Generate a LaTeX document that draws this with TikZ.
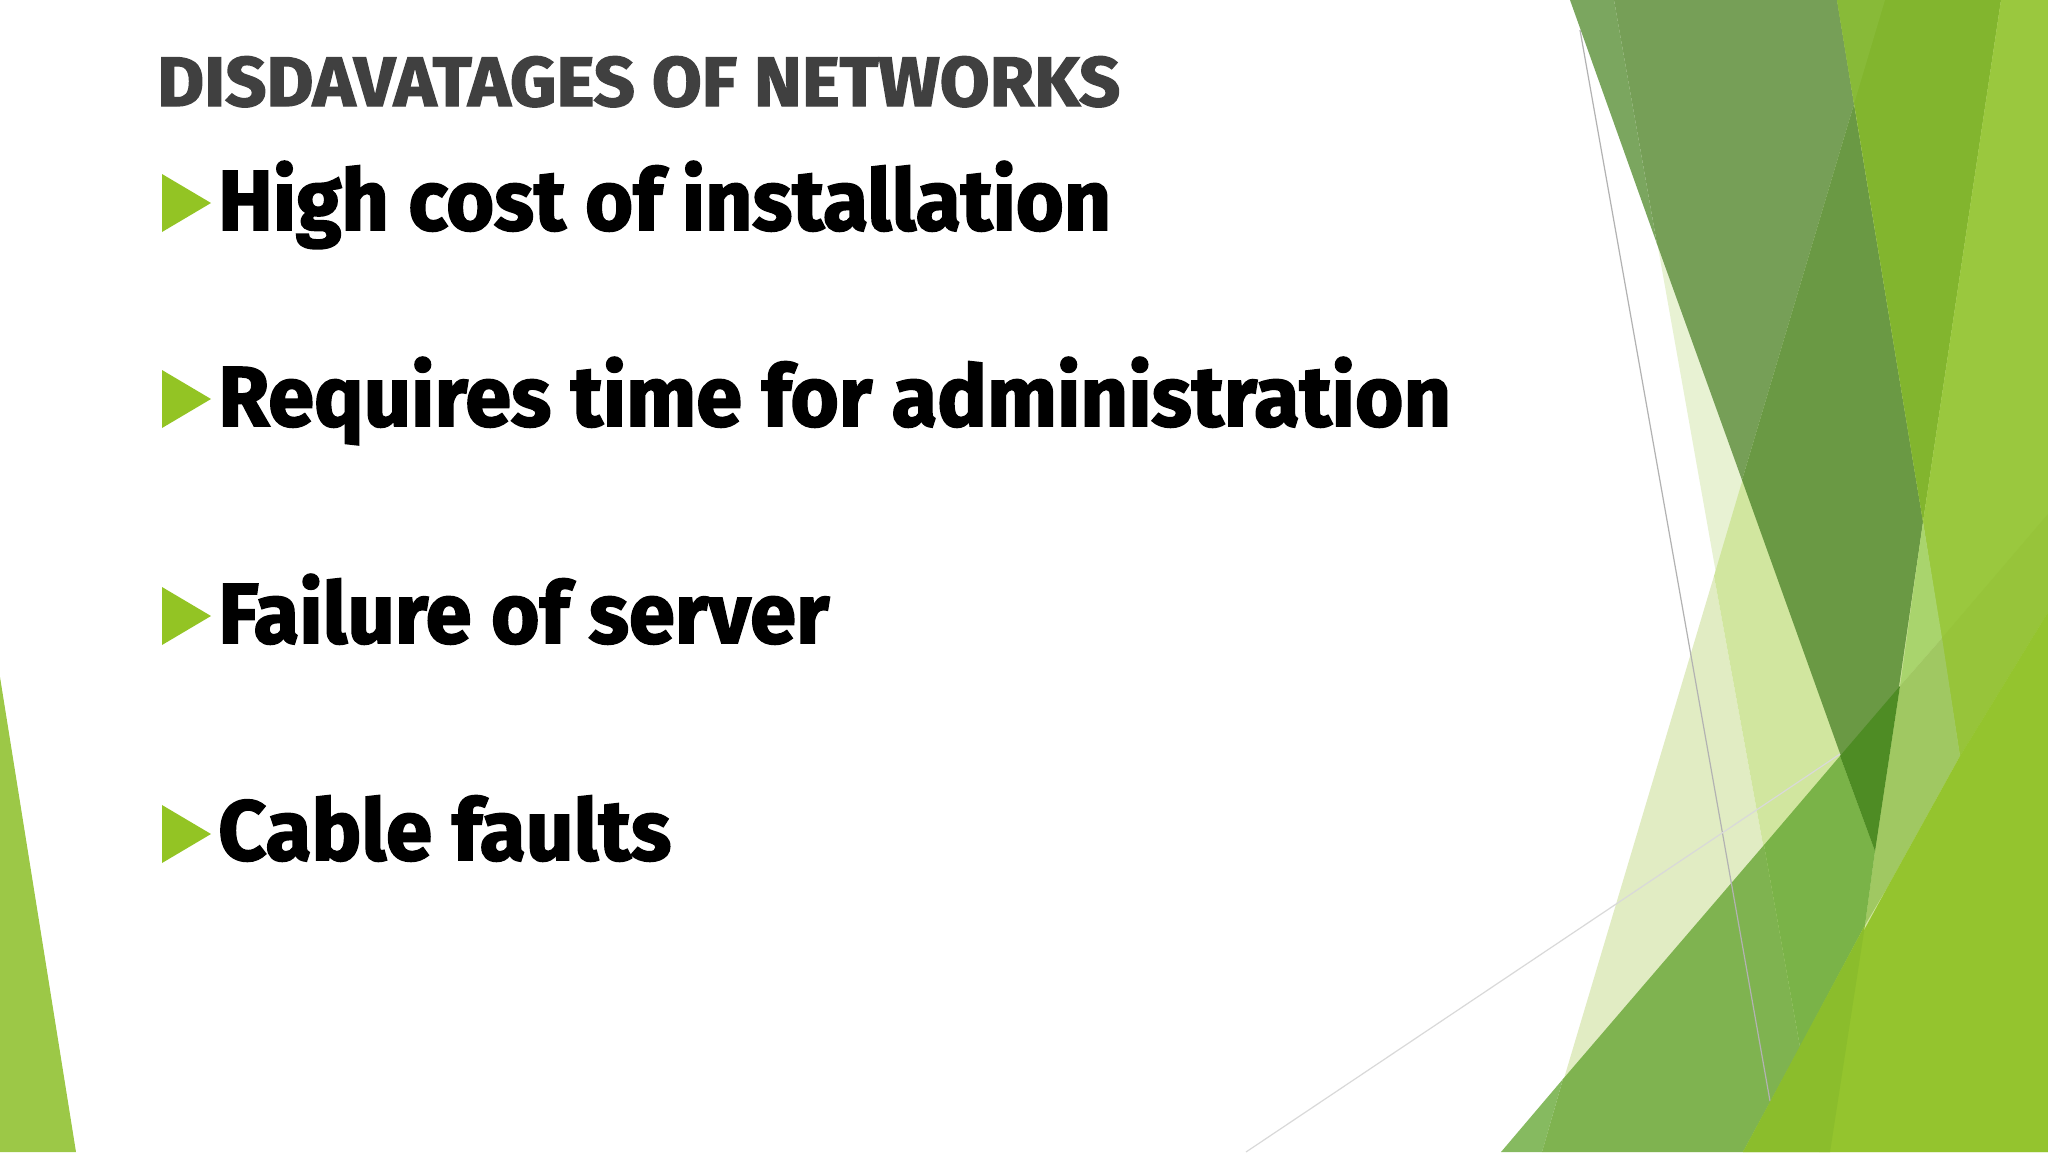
\documentclass[tikz,border=0pt]{standalone}
\usepackage{fontspec}
\setmainfont[BoldFeatures={FakeBold=2}]{Fira Sans}
\definecolor{titlegray}{HTML}{404040}
\definecolor{bullet}{HTML}{93C424}
\definecolor{cLeft}{HTML}{9CC847}
\definecolor{cWashA}{HTML}{E8F2D3}
\definecolor{cWashB}{HTML}{E1ECC3}
\definecolor{cWashC}{HTML}{D1E69F}
\definecolor{cWedgeA}{HTML}{7BA65F}
\definecolor{cWedgeB}{HTML}{769F57}
\definecolor{cWedgeC}{HTML}{6A9944}
\definecolor{cBandA}{HTML}{88BA38}
\definecolor{cBandB}{HTML}{82B52E}
\definecolor{cLime}{HTML}{9AC83E}
\definecolor{cLimeG}{HTML}{97C43A}
\definecolor{cPaleA}{HTML}{A9D46D}
\definecolor{cPaleB}{HTML}{A0C862}
\definecolor{cGreenA}{HTML}{86BA60}
\definecolor{cGreenB}{HTML}{7FB350}
\definecolor{cGreenC}{HTML}{7AB348}
\definecolor{cGreenD}{HTML}{4E8C24}
\definecolor{cFrontA}{HTML}{8BBD2C}
\definecolor{cFrontB}{HTML}{94C42E}
\tikzset{
  titletext/.style={anchor=base west,inner sep=0pt,text=titlegray,font=\fontsize{70}{70}\selectfont\bfseries},
  itemtext/.style={anchor=base west,inner sep=0pt,text=black,font=\fontsize{85}{85}\selectfont\bfseries},
  bulletmark/.style={fill=bullet,draw=none},
  thinA/.style={draw=black!30,line width=1.2pt},
  thinB/.style={draw=black!15,line width=1.2pt},
  facet/.style={draw=none}
}
\begin{document}
\begin{tikzpicture}[x=1pt,y=-1pt]
\useasboundingbox (0,0) rectangle (2048,1152);
\fill[white] (0,0) rectangle (2048,1152);
% left corner
\fill[facet,cLeft] (0,677) -- (76,1152) -- (0,1152) -- cycle;
% pale washes
\fill[facet,cWashA] (1614,0) -- (1819,1152) -- (2048,1152) -- (2048,0) -- cycle;
\fill[facet,cWashB] (1714,576) -- (1819,1152) -- (1542,1152) -- cycle;
\fill[facet,cWashC] (1885,0) -- (1714,576) -- (1819,1152) -- (2048,1152) -- (2048,0) -- cycle;
% dark wedge
\fill[facet,cWedgeA] (1570,0) -- (1614,0) -- (1657,244) -- cycle;
\fill[facet,cWedgeB] (1614,0) -- (1837,0) -- (1854,104) -- (1742,480) -- (1657,244) -- cycle;
\fill[facet,cWedgeC] (1854,104) -- (1923,522) -- (1875,851) -- (1742,480) -- cycle;
% top band
\fill[facet,cBandB] (1837,0) -- (2001,0) -- (1923,522) -- cycle;
\fill[facet,cBandA] (1837,0) -- (1885,0) -- (1854,104) -- cycle;
% lime
\fill[facet,cLime] (2001,0) -- (2048,0) -- (2048,612) -- (1960,756) -- (1923,522) -- cycle;
\fill[facet,cLimeG] (1942,638) -- (2048,514) -- (2048,612) -- (1960,756) -- cycle;
% pale facet
\fill[facet,cPaleA] (1923,522) -- (1942,638) -- (1900,686) -- cycle;
\fill[facet,cPaleB] (1942,638) -- (1960,756) -- (1887,888) -- (1865,925) -- (1875,851) -- (1900,686) -- cycle;
% big green band
\fill[facet,cGreenA] (1501,1152) -- (1563,1079) -- (1542,1152) -- cycle;
\fill[facet,cGreenB] (1563,1079) -- (1764,845) -- (1800,1047) -- (1743,1152) -- (1542,1152) -- cycle;
\fill[facet,cGreenC] (1764,845) -- (1840,756) -- (1875,851) -- (1865,925) -- (1800,1047) -- cycle;
\fill[facet,cGreenD] (1840,756) -- (1900,686) -- (1875,851) -- cycle;
% thin lines
\coordinate (lineAstart) at (1580,30);
\coordinate (lineAend) at (1770,1101);
\coordinate (lineBstart) at (1246,1152);
\coordinate (lineBend) at (1840,754);
\draw[thinA] (lineAstart) -- (lineAend);
\draw[thinB] (lineBstart) -- (lineBend);
% front lime
\fill[facet,cFrontB] (1743,1152) -- (1887,888) -- (1960,756) -- (2048,612) -- (2048,1152) -- cycle;
\fill[facet,cFrontA] (1743,1152) -- (1865,925) -- (1830,1152) -- cycle;
% text
\node[titletext] (title) at (157,106) {\resizebox{963pt}{\height}{DISDAVATAGES OF NETWORKS}};
\fill[bulletmark] (162,174) -- (211,203) -- (162,232) -- cycle;
\fill[bulletmark] (162,370) -- (211,399) -- (162,428) -- cycle;
\fill[bulletmark] (162,587) -- (211,616) -- (162,645) -- cycle;
\fill[bulletmark] (162,805) -- (211,834) -- (162,863) -- cycle;
\node[itemtext] (itemA) at (218,230) {\resizebox{893pt}{\height}{High cost of installation}};
\node[itemtext] (itemB) at (218,426) {\resizebox{1233pt}{\height}{Requires time for administration}};
\node[itemtext] (itemC) at (218,643) {\resizebox{611pt}{\height}{Failure of server}};
\node[itemtext] (itemD) at (218,860) {\resizebox{453pt}{\height}{Cable faults}};
\end{tikzpicture}
\end{document}
